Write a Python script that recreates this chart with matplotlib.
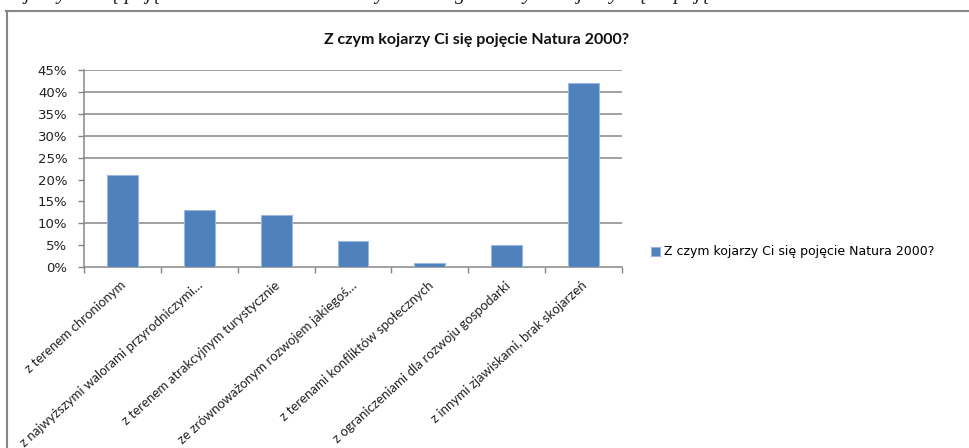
import matplotlib
matplotlib.use('Agg')
import matplotlib.pyplot as plt
import matplotlib.transforms as mtransforms
from matplotlib.lines import Line2D
from matplotlib.ticker import FuncFormatter, FixedLocator
import numpy as np

TYTUL = 'Z czym kojarzy Ci się pojęcie Natura 2000?'
KATEGORIE = [
    'z terenem chronionym',
    'z najwyższymi walorami przyrodniczymi…',
    'z terenem atrakcyjnym turystycznie',
    'ze zrównoważonym rozwojem jakiegoś…',
    'z terenami konfliktów społecznych',
    'z ograniczeniami dla rozwoju gospodarki',
    'z innymi zjawiskami, brak skojarzeń',
]
WARTOSCI = [0.21, 0.13, 0.12, 0.06, 0.01, 0.05, 0.42]
Y_TICKI = [0, 0.05, 0.10, 0.15, 0.20, 0.25, 0.30, 0.35, 0.40, 0.45]
# linie siatki widoczne na obrazku
SIATKA = [0.10, 0.25, 0.30, 0.35, 0.40, 0.45]

W, H = 969, 448
fig = plt.figure(figsize=(W / 100, H / 100), dpi=100)
fig.patch.set_facecolor('white')

SZARY = '#878787'
NIEBIESKI = '#4F81BD'

# ucięty tekst nad wykresem (widać tylko dolne fragmenty liter)
fig.text(5 / W, 1 + 1 / H,
         'kojarzy Ci się pojęcie Natura 2000 oraz z czym według badanych kojarzy się to pojęcie',
         family='Liberation Serif', style='italic', fontsize=15, va='baseline', ha='left',
         color='#222222')

# ramka obszaru wykresu
fig.add_artist(Line2D([6 / W, 1], [1 - 11 / H, 1 - 11 / H], color=SZARY, lw=1.5,
                      transform=fig.transFigure))
fig.add_artist(Line2D([6.5 / W, 6.5 / W], [0, 1 - 11 / H], color=SZARY, lw=1.5,
                      transform=fig.transFigure))

ax = fig.add_axes([84 / W, 1 - 267 / H, (622 - 84) / W, (267 - 70.3) / H])

x = np.arange(len(KATEGORIE))
slupki = ax.bar(x, WARTOSCI, width=0.4, color=NIEBIESKI, edgecolor='#9bb7dc',
                linewidth=0.8, label=TYTUL, zorder=3)

ax.set_xlim(-0.5, len(KATEGORIE) - 0.5)
ax.set_ylim(0, 0.45)

for g in SIATKA:
    ax.axhline(g, color=SZARY, lw=1.1, zorder=1)

ax.set_yticks(Y_TICKI)
ax.yaxis.set_major_formatter(FuncFormatter(lambda v, _: f'{v * 100:.0f}%'))
ax.tick_params(axis='y', length=4, width=1, color=SZARY, pad=8,
               labelsize=9.5, labelcolor='#222222')

ax.set_xticks(x)
ax.set_xticklabels(KATEGORIE, rotation=42, ha='right', va='center',
                   rotation_mode='anchor', family='Lato', fontsize=9.5, color='#222222')
ax.tick_params(axis='x', which='major', length=0, pad=12)
ax.xaxis.set_minor_locator(FixedLocator(np.arange(-0.5, len(KATEGORIE), 1.0)))
ax.tick_params(axis='x', which='minor', length=4, width=1, color=SZARY)

przes = mtransforms.ScaledTranslation(2 / 100, 0, fig.dpi_scale_trans)
for lab in ax.get_xticklabels():
    lab.set_transform(lab.get_transform() + przes)

for s in ['top', 'right']:
    ax.spines[s].set_visible(False)
for s in ['left', 'bottom']:
    ax.spines[s].set_color(SZARY)
    ax.spines[s].set_linewidth(1.1)

fig.text(477 / W, 1 - 40 / H, TYTUL, family='Lato', fontweight='bold', fontsize=11.5,
         ha='center', va='center', color='#111111')

ax.legend(loc='center left', bbox_to_anchor=(651 / W, 1 - 252 / H),
          bbox_transform=fig.transFigure, frameon=False, borderpad=0, borderaxespad=0,
          handlelength=0.75, handleheight=0.75, handletextpad=0.3,
          prop={'family': 'DejaVu Sans', 'size': 9})

fig.savefig('out.png', dpi=100)
